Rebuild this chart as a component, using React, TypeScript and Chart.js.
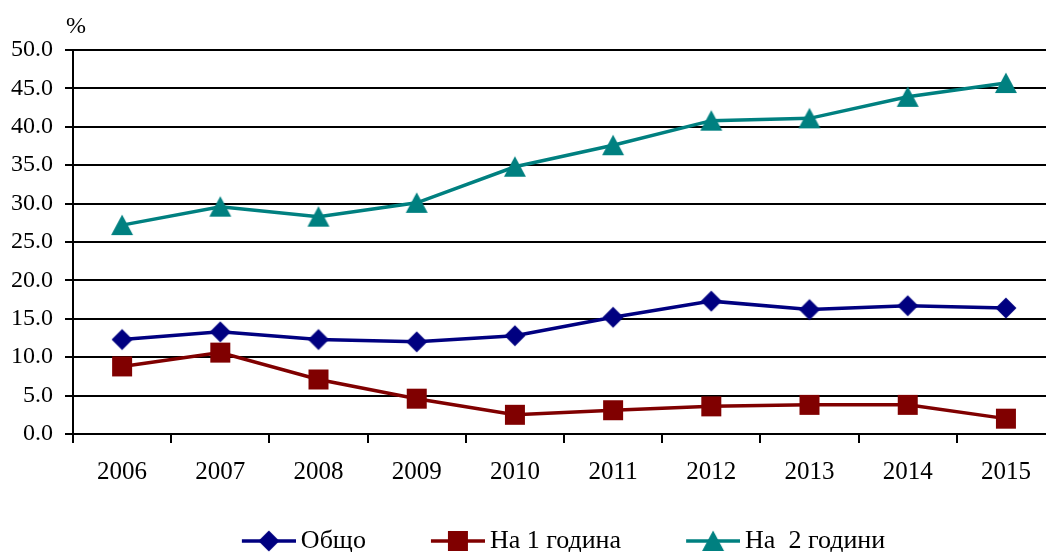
import React, { useEffect, useRef } from "react";
import { Chart, registerables } from "chart.js";

Chart.register(...registerables);

const categories = ["2006", "2007", "2008", "2009", "2010", "2011", "2012", "2013", "2014", "2015"];
const totalValues = [12.3, 13.3, 12.3, 12.0, 12.8, 15.2, 17.3, 16.2, 16.7, 16.4];
const oneYearValues = [8.8, 10.6, 7.1, 4.6, 2.5, 3.1, 3.6, 3.8, 3.8, 2.0];
const twoYearsValues = [27.2, 29.6, 28.3, 30.1, 34.8, 37.6, 40.8, 41.1, 43.9, 45.7];
const seriesLabels = ["Общо", "На 1 година", "На  2 години"];
const seriesColors = ["#000080", "#800000", "#008080"];
const seriesShapes = ["diamond", "square", "triangle"];
const yTickMin = 0;
const yTickMax = 50;
const yTickStep = 5;
const unitLabel = "%";

const FONT_FAMILY = '"Liberation Serif", "Times New Roman", serif';

function drawShape(ctx: CanvasRenderingContext2D, shape: string, cx: number, cy: number, color: string) {
  ctx.fillStyle = color;
  ctx.beginPath();
  if (shape === "diamond") {
    ctx.moveTo(cx, cy - 10.5);
    ctx.lineTo(cx + 10.5, cy);
    ctx.lineTo(cx, cy + 10.5);
    ctx.lineTo(cx - 10.5, cy);
  } else if (shape === "square") {
    ctx.rect(cx - 10, cy - 10, 20, 20);
  } else {
    ctx.moveTo(cx, cy - 10.5);
    ctx.lineTo(cx + 11, cy + 10);
    ctx.lineTo(cx - 11, cy + 10);
  }
  ctx.closePath();
  ctx.fill();
}

function makeMarker(shape: string, color: string): HTMLCanvasElement {
  const c = document.createElement("canvas");
  c.width = 24;
  c.height = 24;
  const ctx = c.getContext("2d")!;
  drawShape(ctx, shape, 12, 12, color);
  return c;
}

function makeLegendImage(shape: string, color: string): HTMLCanvasElement {
  const c = document.createElement("canvas");
  c.width = 100;
  c.height = 24;
  const ctx = c.getContext("2d")!;
  ctx.strokeStyle = color;
  ctx.lineWidth = 3.5;
  ctx.beginPath();
  ctx.moveTo(46, 12);
  ctx.lineTo(100, 12);
  ctx.stroke();
  drawShape(ctx, shape, 73, 12, color);
  return c;
}

const unitPlugin = {
  id: "unitLabel",
  afterDraw(chart: any) {
    const ctx = chart.ctx;
    const area = chart.chartArea;
    ctx.save();
    ctx.font = `24px ${FONT_FAMILY}`;
    ctx.fillStyle = "#000";
    ctx.textAlign = "left";
    ctx.textBaseline = "alphabetic";
    ctx.fillText(unitLabel, area.left - 7, area.top - 17);
    ctx.restore();
  },
};

export default function App() {
  const ref = useRef<HTMLCanvasElement | null>(null);

  useEffect(() => {
    if (!ref.current) return;
    const values = [totalValues, oneYearValues, twoYearsValues];
    const markers = seriesShapes.map((s, i) => makeMarker(s, seriesColors[i]));
    const legendImgs = seriesShapes.map((s, i) => makeLegendImage(s, seriesColors[i]));
    const yFont = { family: FONT_FAMILY, size: 24 };
    const xFont = { family: FONT_FAMILY, size: 25 };
    const legendFont = { family: FONT_FAMILY, size: 26 };

    const chart = new Chart(ref.current, {
      type: "line",
      data: {
        labels: categories,
        datasets: values.map((v, i) => ({
          label: seriesLabels[i],
          data: v,
          borderColor: seriesColors[i],
          backgroundColor: seriesColors[i],
          borderWidth: 3.5,
          tension: 0,
          pointStyle: markers[i] as any,
          pointRadius: 10,
          fill: false,
          yAxisID: "y",
        })),
      },
      options: {
        animation: false,
        responsive: false,
        devicePixelRatio: 1,
        layout: { padding: { left: 0, right: 0, top: 50, bottom: 0 } },
        scales: {
          x: {
            type: "category",
            offset: true,
            grid: {
              offset: true,
              drawOnChartArea: false,
              drawTicks: true,
              tickLength: 9,
              color: "#000",
              lineWidth: 2,
            },
            border: { display: true, color: "#000", width: 2 },
            ticks: { font: xFont, color: "#000", padding: 14, maxRotation: 0, autoSkip: false },
          },
          y: {
            type: "linear",
            position: "left",
            min: yTickMin,
            max: yTickMax,
            grid: { color: "#000", lineWidth: 2, tickLength: 8, drawTicks: true },
            border: { display: true, color: "#000", width: 2 },
            ticks: {
              stepSize: yTickStep,
              font: yFont,
              color: "#000",
              padding: 12,
              callback: (v: any) => Number(v).toFixed(1),
            },
          },
          y2: {
            type: "linear",
            position: "right",
            display: true,
            grid: { display: false, drawTicks: false },
            border: { display: false },
            ticks: { display: false },
            afterFit: (s: any) => {
              s.width = 35;
            },
          },
        },
        plugins: {
          tooltip: { enabled: false },
          legend: {
            position: "bottom",
            labels: {
              usePointStyle: true,
              pointStyleWidth: 84,
              padding: 27,
              font: legendFont,
              color: "#000",
              generateLabels: () =>
                seriesLabels.map((t, i) => ({
                  text: t,
                  pointStyle: legendImgs[i] as any,
                  fillStyle: seriesColors[i],
                  strokeStyle: seriesColors[i],
                  lineWidth: 0,
                  hidden: false,
                  datasetIndex: i,
                  fontColor: "#000",
                })),
            },
          },
        },
      },
      plugins: [unitPlugin],
    });
    return () => chart.destroy();
  }, []);

  return (
    <div
      style={{
        position: "fixed",
        left: 0,
        top: 0,
        width: 1046,
        height: 552,
        overflow: "hidden",
        background: "#fff",
      }}
    >
      <canvas
        ref={ref}
        width={1091}
        height={564}
        style={{ display: "block", position: "absolute", left: -1, top: 0 }}
      />
    </div>
  );
}
